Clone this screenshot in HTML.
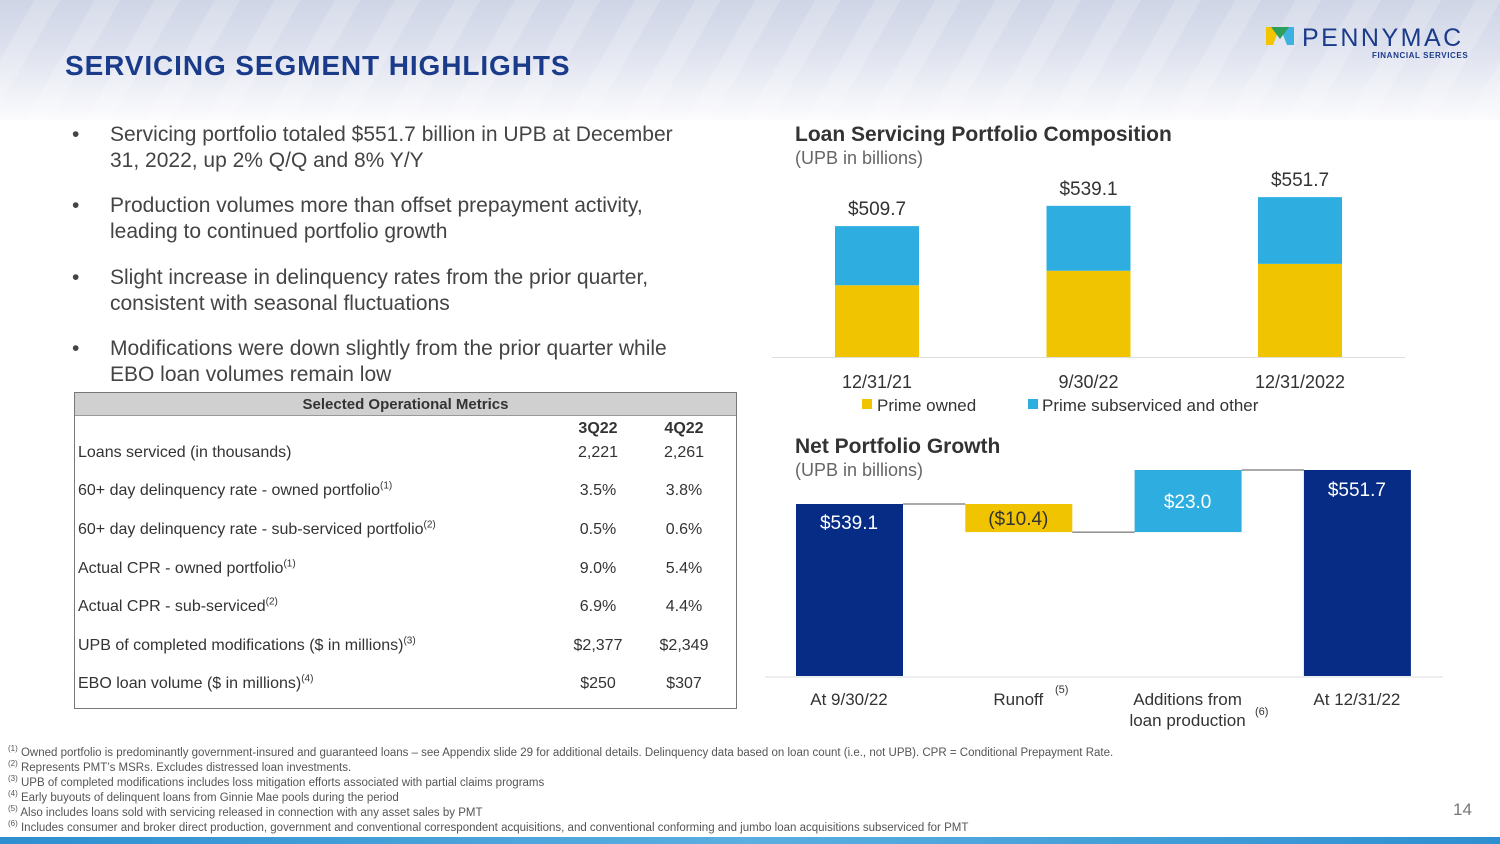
<!DOCTYPE html>
<html><head><meta charset="utf-8">
<style>
*{margin:0;padding:0;box-sizing:border-box}
body{width:1500px;height:844px;overflow:hidden;position:relative;background:#fff;font-family:"Liberation Sans",sans-serif;color:#333}
.hdr{position:absolute;left:0;top:0;width:1500px;height:120px;background:linear-gradient(#cfd5e6 0%,#dde1ee 40%,#fbfbfd 100%)}
.hdr:before{content:"";position:absolute;inset:0;background:repeating-linear-gradient(120deg,rgba(255,255,255,0.0) 0 30px,rgba(255,255,255,0.18) 30px 52px);}
.title{position:absolute;left:65px;top:50px;font-size:28px;font-weight:bold;color:#1a3a8a;letter-spacing:0.9px}
.logo{position:absolute;left:1302px;top:24px;font-size:25px;color:#1a3a8a;letter-spacing:2.5px}
.logo2{position:absolute;left:1372px;top:51px;font-size:8px;color:#1a3a8a;font-weight:bold;letter-spacing:0.6px}
.b{position:absolute;left:72px;font-size:21px;line-height:26px;color:#444;padding-left:38px;white-space:nowrap}
.b:before{content:"•";position:absolute;left:0;top:0}
.tbl{position:absolute;left:74px;top:392px;width:663px;height:317px;border:1px solid #777;font-size:16px;color:#333}
.th{position:absolute;left:0;top:0;width:661px;height:23px;background:#d0d0d0;border-bottom:1px solid #999;text-align:center;font-weight:bold;font-size:15px;line-height:23px}
.r{position:absolute;left:3px;white-space:nowrap}
.c1,.c2{position:absolute;width:86px;text-align:center}
.c1{left:480px}.c2{left:566px}
sup{font-size:10px;line-height:0;vertical-align:super}
.fn{position:absolute;left:8px;top:746px;font-size:11.5px;line-height:15px;color:#555;white-space:nowrap}
.fn div{height:15px}
.fn sup{font-size:8px}
.pg{position:absolute;left:1453px;top:800px;font-size:17px;color:#777}
.bottom{position:absolute;left:0;top:837px;width:1500px;height:7px;background:linear-gradient(90deg,#2e8fd0,#5aafe0,#2e8fd0)}
svg text{font-family:"Liberation Sans",sans-serif}
</style></head><body>
<div class="hdr"></div>
<div class="title">SERVICING SEGMENT HIGHLIGHTS</div>
<svg style="position:absolute;left:1266px;top:27px" width="28" height="20"><polygon points="0,0 14,0 7,18 0,18" fill="#f2c500"/><polygon points="14,0 28,0 28,18 21,18" fill="#3db1e0"/><polygon points="5,0 23,0 14,12" fill="#2e9e5b"/></svg>
<div class="logo">PENNYMAC</div>
<div class="logo2">FINANCIAL SERVICES</div>
<div class="b" style="top:122px">Servicing portfolio totaled $551.7 billion in UPB at December<br>31, 2022, up 2% Q/Q and 8% Y/Y</div>
<div class="b" style="top:193px">Production volumes more than offset prepayment activity,<br>leading to continued portfolio growth</div>
<div class="b" style="top:265px">Slight increase in delinquency rates from the prior quarter,<br>consistent with seasonal fluctuations</div>
<div class="b" style="top:336px">Modifications were down slightly from the prior quarter while<br>EBO loan volumes remain low</div>
<div class="tbl">
<div class="th">Selected Operational Metrics</div>
<div class="c1" style="top:27px;font-weight:bold">3Q22</div><div class="c2" style="top:27px;font-weight:bold">4Q22</div>
<div class="r" style="top:51px">Loans serviced (in thousands)</div><div class="c1" style="top:51px">2,221</div><div class="c2" style="top:51px">2,261</div>
<div class="r" style="top:89px">60+ day delinquency rate - owned portfolio<sup>(1)</sup></div><div class="c1" style="top:89px">3.5%</div><div class="c2" style="top:89px">3.8%</div>
<div class="r" style="top:128px">60+ day delinquency rate - sub-serviced portfolio<sup>(2)</sup></div><div class="c1" style="top:128px">0.5%</div><div class="c2" style="top:128px">0.6%</div>
<div class="r" style="top:167px">Actual CPR - owned portfolio<sup>(1)</sup></div><div class="c1" style="top:167px">9.0%</div><div class="c2" style="top:167px">5.4%</div>
<div class="r" style="top:205px">Actual CPR - sub-serviced<sup>(2)</sup></div><div class="c1" style="top:205px">6.9%</div><div class="c2" style="top:205px">4.4%</div>
<div class="r" style="top:244px">UPB of completed modifications ($ in millions)<sup>(3)</sup></div><div class="c1" style="top:244px">$2,377</div><div class="c2" style="top:244px">$2,349</div>
<div class="r" style="top:282px">EBO loan volume ($ in millions)<sup>(4)</sup></div><div class="c1" style="top:282px">$250</div><div class="c2" style="top:282px">$307</div>
</div>
<svg id="c" style="position:absolute;left:0;top:0" width="1500" height="844">
<text x="795" y="141" font-size="21" font-weight="bold" fill="#333">Loan Servicing Portfolio Composition</text>
<text x="795" y="164" font-size="18" fill="#666">(UPB in billions)</text>
<line x1="772" y1="357.5" x2="1405" y2="357.5" stroke="#ddd"/>
<rect x="862" y="399" width="10" height="10" fill="#f0c400"/>
<text x="877" y="411" font-size="17" fill="#333">Prime owned</text>
<rect x="1028" y="399" width="10" height="10" fill="#2eaee0"/>
<text x="1042" y="411" font-size="17" fill="#333">Prime subserviced and other</text>
<text x="795" y="453" font-size="21" font-weight="bold" fill="#333">Net Portfolio Growth</text>
<text x="795" y="476" font-size="18" fill="#666">(UPB in billions)</text>
<line x1="765" y1="677" x2="1443" y2="677" stroke="#ddd"/>
</svg>
<div class="fn">
<div><sup>(1)</sup> Owned portfolio is predominantly government-insured and guaranteed loans – see Appendix slide 29 for additional details. Delinquency data based on loan count (i.e., not UPB). CPR = Conditional Prepayment Rate.</div>
<div><sup>(2)</sup> Represents PMT’s MSRs. Excludes distressed loan investments.</div>
<div><sup>(3)</sup> UPB of completed modifications includes loss mitigation efforts associated with partial claims programs</div>
<div><sup>(4)</sup> Early buyouts of delinquent loans from Ginnie Mae pools during the period</div>
<div><sup>(5)</sup> Also includes loans sold with servicing released in connection with any asset sales by PMT</div>
<div><sup>(6)</sup> Includes consumer and broker direct production, government and conventional correspondent acquisitions, and conventional conforming and jumbo loan acquisitions subserviced for PMT</div>
</div>
<div class="pg">14</div>
<div class="bottom"></div>
<script>
const compCats=["12/31/21","9/30/22","12/31/2022"];
const compTotal=[509.7,539.1,551.7];
const compOwned=[424,445,455];
const compLabels=["$509.7","$539.1","$551.7"];
const wfCats=["At 9/30/22","Runoff","Additions from","At 12/31/22"];
const wfDeltas=[539.1,-10.4,23.0,551.7];
const wfLabels=["$539.1","($10.4)","$23.0","$551.7"];
const NS="http://www.w3.org/2000/svg";const svg=document.getElementById('c');
function mk(t,a){const e=document.createElementNS(NS,t);for(const k in a)e.setAttribute(k,a[k]);svg.appendChild(e);return e;}
const cy=v=>357-(v-320)*0.69, cx=i=>835+i*211.5;
compCats.forEach((c,i)=>{
 let r=mk('rect',{x:cx(i),y:cy(compOwned[i]),width:84,height:357-cy(compOwned[i]),fill:'#f0c400'});
 
 
 r=mk('rect',{x:cx(i),y:cy(compTotal[i]),width:84,height:cy(compOwned[i])-cy(compTotal[i]),fill:'#2eaee0'});
 
 
 let t=mk('text',{x:cx(i)+42,y:cy(compTotal[i])-11,'font-size':19,'text-anchor':'middle',fill:'#333'});t.textContent=compLabels[i];
 
 
 t=mk('text',{x:cx(i)+42,y:388,'font-size':18,'text-anchor':'middle',fill:'#333'});t.textContent=c;
 
 
});
const wy=v=>676-(v-475.4)*2.7, wx=i=>796+i*169.3;
let run=0;
wfCats.forEach((c,i)=>{
 let y0,y1,col,tc='#fff';
 if(i===0||i===wfCats.length-1){run=wfDeltas[i];y0=wy(run);y1=676;col='#062c86';}
 else{const a=run,b=run+wfDeltas[i];y0=wy(Math.max(a,b));y1=wy(Math.min(a,b));run=b;col=wfDeltas[i]<0?'#f0c400':'#2eaee0';if(wfDeltas[i]<0)tc='#333';}
 let r=mk('rect',{x:wx(i),y:y0,width:107,height:y1-y0,fill:col});
 
 
 if(i<wfCats.length-1){let l=mk('line',{x1:wx(i)+107,x2:wx(i+1),y1:wy(run),y2:wy(run),stroke:'#555','stroke-width':1});
  
  }
 let t=mk('text',{x:wx(i)+53,y:y0+(i===0?25:(i===3?26:(y1-y0)/2+7)),'font-size':19,'text-anchor':'middle',fill:tc});t.textContent=wfLabels[i];
 
 
 t=mk('text',{x:wx(i)+53,y:705,'font-size':17,'text-anchor':'middle',fill:'#333'});t.textContent=c;
 
 
});
let t=mk('text',{x:wx(2)+53,y:726,'font-size':17,'text-anchor':'middle',fill:'#333'});t.textContent="loan production";


t=mk('text',{x:1055,y:693,'font-size':11,fill:'#333'});t.textContent="(5)";


t=mk('text',{x:1255,y:715,'font-size':11,fill:'#333'});t.textContent="(6)";


</script>
</body></html>
